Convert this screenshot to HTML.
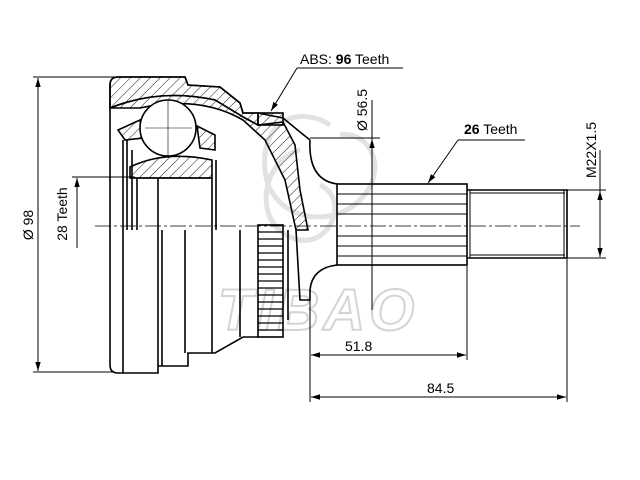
<!DOCTYPE html>
<html><head><meta charset="utf-8"><style>
html,body{margin:0;padding:0;background:#fff;}
svg{display:block;font-family:"Liberation Sans",Arial,sans-serif;}
</style></head><body>
<svg width="640" height="480" viewBox="0 0 640 480" xmlns="http://www.w3.org/2000/svg">
<defs>
<pattern id="h" width="7" height="7" patternUnits="userSpaceOnUse" patternTransform="rotate(45)">
<line x1="0" y1="0" x2="0" y2="7" stroke="#000" stroke-width="0.9"/></pattern>
<marker id="a" viewBox="0 0 10 10" refX="10" refY="5" markerWidth="9" markerHeight="9" orient="auto-start-reverse" markerUnits="userSpaceOnUse"><path d="M0,2 L10,5 L0,8 z" fill="#000"/></marker>
</defs>
<g fill="none" stroke="#e2e2e2" stroke-width="5">
<path d="M300,150 C260,160 250,230 300,240 C330,245 350,200 320,185"/>
<path d="M330,125 C300,105 260,120 265,170 C270,220 330,230 360,200 C390,170 370,130 340,135"/>
</g>
<text x="318" y="330" font-size="58" font-style="italic" font-weight="bold" fill="none" stroke="#d4d4d4" stroke-width="2" text-anchor="middle" letter-spacing="4">TIBAO</text>

<g fill="none" stroke="#000" stroke-width="1.6">
<path d="M118,77 L185,77 L188,85 L220,87 L240,103 L243,113 L258,113 L283,118 L300,132 L310,140"/>
<path d="M110,85 Q110,77 118,77 M110,85 L110,365 Q110,373 118,373 L158,373 L158,366 L188,366 L188,353 L215,353 L243,337 L258,337"/>
<path d="M110,108 Q160,88 215,100 L245,118 L258,125 L283,122 L295,145 L300,190 L308,230 L296,230 L285,180 L265,140 L243,120 Q200,95 140,108 Z" fill="url(#h)"/>
<path d="M118,77 L185,77 L188,85 L220,87 L240,103 L243,113 L258,113 L258,125 L245,118 L215,100 Q160,88 110,108 L110,85 Q110,77 118,77 Z" fill="url(#h)"/>
<rect x="258" y="113" width="25" height="12" fill="url(#h)"/>
<path d="M118,130 L140,120 L143,138 L125,140 Z" fill="url(#h)"/>
<path d="M197,126 L215,135 L215,150 L200,148 Z" fill="url(#h)"/>
<path d="M130,167 Q165,150 212,160 L212,178 L130,178 Z" fill="url(#h)"/>
<circle cx="168" cy="128" r="28" fill="#fff"/>
<line x1="145" y1="128" x2="192" y2="128" stroke-width="0.6"/>
<line x1="168" y1="100" x2="168" y2="158" stroke-width="0.6"/>
<line x1="123" y1="140" x2="123" y2="373"/>
<line x1="127" y1="140" x2="127" y2="230"/>
<line x1="132" y1="150" x2="132" y2="230"/>
<line x1="137" y1="178" x2="137" y2="230"/>
<line x1="158" y1="178" x2="158" y2="366"/>
<line x1="162" y1="230" x2="162" y2="366"/>
<line x1="185" y1="230" x2="185" y2="353"/>
<line x1="212" y1="178" x2="212" y2="353"/>
<line x1="216" y1="160" x2="216" y2="230"/>
<line x1="240" y1="230" x2="240" y2="337"/>
<line x1="135" y1="178" x2="212" y2="178"/>
<rect x="258" y="225" width="25" height="112"/>
<g stroke-width="1.3">
<line x1="258" y1="232" x2="283" y2="232"/><line x1="258" y1="239" x2="283" y2="239"/><line x1="258" y1="246" x2="283" y2="246"/><line x1="258" y1="253" x2="283" y2="253"/><line x1="258" y1="260" x2="283" y2="260"/><line x1="258" y1="267" x2="283" y2="267"/><line x1="258" y1="274" x2="283" y2="274"/><line x1="258" y1="281" x2="283" y2="281"/><line x1="258" y1="288" x2="283" y2="288"/><line x1="258" y1="295" x2="283" y2="295"/><line x1="258" y1="302" x2="283" y2="302"/><line x1="258" y1="309" x2="283" y2="309"/><line x1="258" y1="316" x2="283" y2="316"/><line x1="258" y1="323" x2="283" y2="323"/><line x1="258" y1="330" x2="283" y2="330"/>
</g>
<line x1="288" y1="230" x2="288" y2="320"/>
<path d="M310,140 Q308,180 337,184"/>
<path d="M337,265 Q312,268 310,290"/>
<path d="M296,230 L300,300 L310,300 L310,290"/>
<rect x="337" y="184" width="130" height="81"/>
<g stroke-width="1.1">
<line x1="337" y1="194" x2="467" y2="194"/><line x1="337" y1="204" x2="467" y2="204"/><line x1="337" y1="214" x2="467" y2="214"/><line x1="337" y1="236" x2="467" y2="236"/><line x1="337" y1="246" x2="467" y2="246"/><line x1="337" y1="256" x2="467" y2="256"/>
</g>
<path d="M467,190 L567,190 L567,258 L467,258"/>
<line x1="470" y1="193" x2="565" y2="193" stroke-width="1"/>
<line x1="470" y1="255" x2="565" y2="255" stroke-width="1"/>
<line x1="470" y1="190" x2="470" y2="258" stroke-width="1"/>
<line x1="564" y1="190" x2="564" y2="258" stroke-width="1"/>
</g>
<line x1="95" y1="226" x2="580" y2="226" stroke="#000" stroke-width="0.7" stroke-dasharray="16,3,3,3"/>

<g stroke="#000" stroke-width="1" fill="none">
<line x1="33" y1="77" x2="115" y2="77"/><line x1="33" y1="372" x2="115" y2="372"/>
<line x1="38" y1="78" x2="38" y2="371" marker-start="url(#a)" marker-end="url(#a)"/>
<line x1="72" y1="177" x2="135" y2="177"/>
<line x1="77" y1="248" x2="77" y2="178" marker-end="url(#a)"/>
<line x1="310" y1="138" x2="380" y2="138"/>
<line x1="372" y1="100" x2="372" y2="139" />
<line x1="372" y1="165" x2="372" y2="139" marker-end="url(#a)"/>
<line x1="372" y1="140" x2="372" y2="310"/>
<line x1="310" y1="292" x2="310" y2="402"/>
<line x1="467" y1="266" x2="467" y2="360"/>
<line x1="567" y1="259" x2="567" y2="402"/>
<line x1="311" y1="355" x2="466" y2="355" marker-start="url(#a)" marker-end="url(#a)"/>
<line x1="311" y1="397" x2="566" y2="397" marker-start="url(#a)" marker-end="url(#a)"/>
<line x1="567" y1="190" x2="606" y2="190"/><line x1="567" y1="258" x2="606" y2="258"/>
<line x1="600" y1="150" x2="600" y2="191"/>
<line x1="600" y1="191" x2="600" y2="257" marker-start="url(#a)" marker-end="url(#a)"/>
<polyline points="403,68 297,68"/>
<line x1="297" y1="68" x2="271" y2="111" marker-end="url(#a)"/>
<polyline points="525,140 458,140"/>
<line x1="458" y1="140" x2="428" y2="183" marker-end="url(#a)"/>
</g>
<g font-size="14" fill="#000">
<text x="300" y="64">ABS: <tspan font-weight="bold">96</tspan> Teeth</text>
<text x="464" y="134"><tspan font-weight="bold">26</tspan> Teeth</text>
<text x="345" y="351">51.8</text>
<text x="427" y="393">84.5</text>
<text transform="translate(33,225) rotate(-90)" text-anchor="middle">Ø 98</text>
<text transform="translate(67,214) rotate(-90)" text-anchor="middle">28 Teeth</text>
<text transform="translate(367,110) rotate(-90)" text-anchor="middle">Ø 56.5</text>
<text transform="translate(596,150) rotate(-90)" text-anchor="middle">M22X1.5</text>
</g>
</svg>
</body></html>
